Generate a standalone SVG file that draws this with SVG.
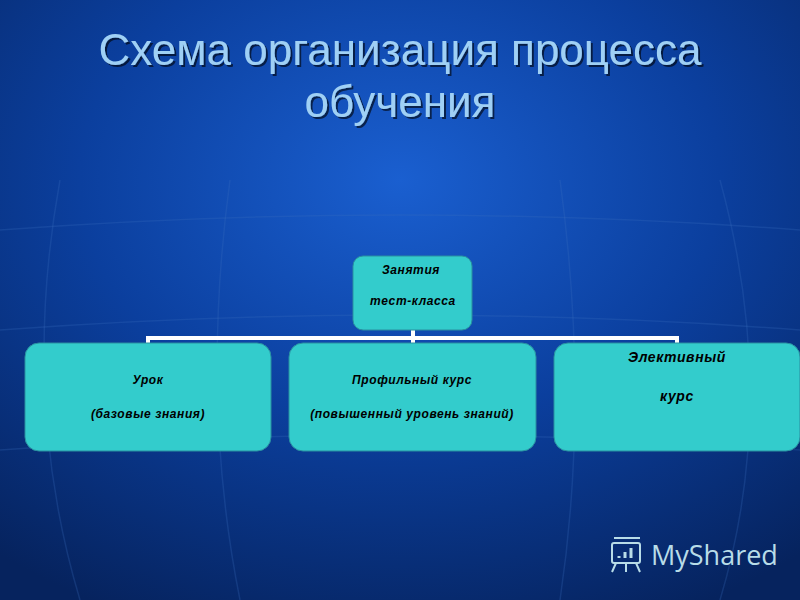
<svg xmlns="http://www.w3.org/2000/svg" width="800" height="600" viewBox="0 0 800 600">
<defs>
<radialGradient id="bg" cx="0.5" cy="0.3" r="0.8">
<stop offset="0" stop-color="#1a5fd0"/>
<stop offset="0.5" stop-color="#0b3f9e"/>
<stop offset="1" stop-color="#06235e"/>
</radialGradient>
<filter id="sh" x="-5%" y="-20%" width="110%" height="140%">
<feDropShadow dx="2" dy="2" stdDeviation="0.5" flood-color="#000" flood-opacity="0.6"/>
</filter>
<style>
.box{fill:#33cccc;stroke:#2a8fa0;stroke-width:1}
.t{font-family:"Liberation Sans",Arial,sans-serif;font-style:italic;font-weight:bold;fill:#000;text-anchor:middle;letter-spacing:0.6px}
.c{fill:none;stroke:#fff;stroke-width:4}
.h{font-family:"Liberation Sans",Arial,sans-serif;font-size:44px;fill:#9fd0f5;text-anchor:middle;filter:url(#sh)}
</style>
</defs>
<rect width="800" height="600" fill="url(#bg)"/>
<g stroke="#3a6fc0" stroke-opacity="0.25" fill="none" stroke-width="1.5">
<path d="M0 230 Q400 200 800 230"/><path d="M0 330 Q400 300 800 330"/><path d="M0 450 Q400 420 800 450"/>
<path d="M60 180 Q20 400 80 600"/><path d="M720 180 Q780 400 720 600"/><path d="M230 180 Q200 400 240 600"/><path d="M560 180 Q590 400 560 600"/>
</g>
<text class="h" x="400" y="65">Схема организация процесса</text>
<text class="h" x="400" y="117">обучения</text>
<g id="connectors">
<path class="c" d="M413 330 V338 M148 344 V338 H677 V344 M413 338 V344"/>
</g>
<g id="n0"><rect class="box" x="353" y="256" width="119" height="74" rx="10"/>
<text class="t" x="411" y="274" font-size="12">Занятия</text>
<text class="t" x="413" y="305" font-size="12">тест-класса</text></g>
<g id="n1"><rect class="box" x="25" y="343" width="246" height="108" rx="14"/>
<text class="t" x="148" y="384" font-size="12">Урок</text>
<text class="t" x="148" y="418" font-size="12">(базовые знания)</text></g>
<g id="n2"><rect class="box" x="289" y="343" width="247" height="108" rx="14"/>
<text class="t" x="412" y="384" font-size="12">Профильный курс</text>
<text class="t" x="412" y="418" font-size="12">(повышенный уровень знаний)</text></g>
<g id="n3"><rect class="box" x="554" y="343" width="246" height="108" rx="14"/>
<text class="t" x="677" y="362" font-size="14">Элективный</text>
<text class="t" x="677" y="401" font-size="14">курс</text></g>
<g id="logo" fill="none" stroke="#b8dce8" stroke-width="2">
<rect x="612" y="543" width="28" height="20" rx="2"/>
<path d="M614 538 H640 M616 563 L612 572 M636 563 L640 572 M626 563 V572"/>
<path d="M619 558 V556 M625 558 V552 M631 558 V548" stroke-width="3"/>
<text x="651" y="565" font-family="Open Sans,sans-serif" font-size="27" fill="#b8dce8" stroke="none">MyShared</text>
</g>
</svg>
